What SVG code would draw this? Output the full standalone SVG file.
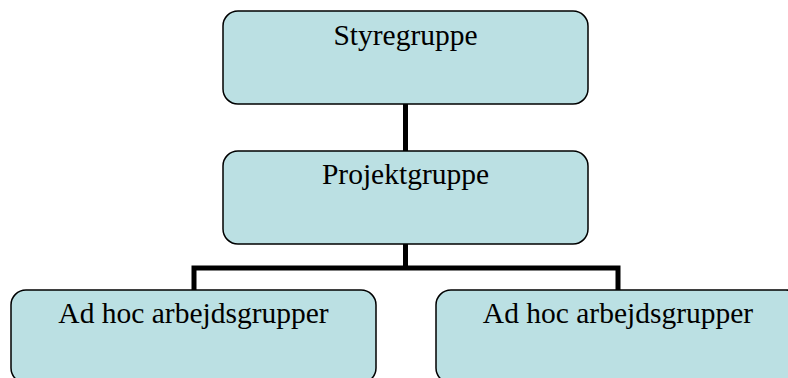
<svg xmlns="http://www.w3.org/2000/svg" width="788" height="378" viewBox="0 0 788 378">
<style>
.box{fill:#bbe0e3;stroke:#000;stroke-width:1.5}
.lbl{font-family:"Liberation Serif","Times New Roman",serif;font-size:29.5px;fill:#000;text-anchor:middle}
.conn{fill:none;stroke:#000;stroke-width:5;stroke-linejoin:miter}
</style>
<rect width="788" height="378" fill="#fff"/>
<g id="connectors">
<path class="conn" d="M405.5,104 V151"/>
<path class="conn" d="M405.5,244 V268 M194,290 V268 H618 V290"/>
</g>
<g id="styregruppe">
<rect class="box" x="223" y="11" width="365" height="93" rx="15" ry="15"/>
<text class="lbl" x="405.5" y="45">Styregruppe</text>
</g>
<g id="projektgruppe">
<rect class="box" x="223" y="151" width="365" height="93" rx="15" ry="15"/>
<text class="lbl" x="405.5" y="184">Projektgruppe</text>
</g>
<g id="adhoc1">
<rect class="box" x="11" y="290" width="365" height="93" rx="15" ry="15"/>
<text class="lbl" x="193.5" y="323">Ad hoc arbejdsgrupper</text>
</g>
<g id="adhoc2">
<rect class="box" x="436" y="290" width="365" height="93" rx="15" ry="15"/>
<text class="lbl" x="618" y="323">Ad hoc arbejdsgrupper</text>
</g>
</svg>
